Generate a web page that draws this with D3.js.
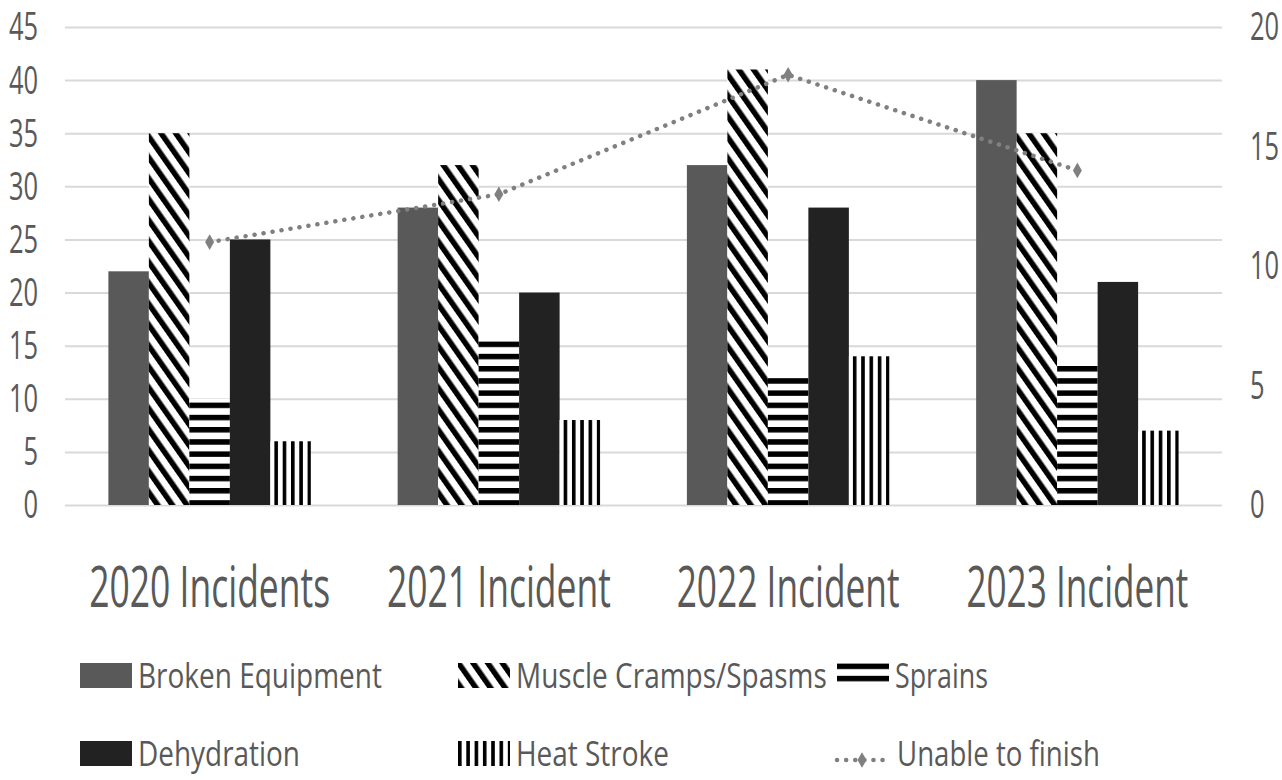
<!DOCTYPE html>
<html>
<head>
<meta charset="utf-8">
<script src="https://cdn.jsdelivr.net/npm/d3@7"></script>
<style>
  body { margin: 0; background: #fff; }
  text { font-family: "Open Sans", sans-serif; fill: #595959; }
</style>
</head>
<body>
<svg id="chart" width="1282" height="780"></svg>
<script>
// Data
const categories = ['2020 Incidents', '2021 Incident', '2022 Incident', '2023 Incident'];
const brokenEquipment = [22, 28, 32, 40];
const muscleCramps = [35, 32, 41, 35];
const sprains = [10, 16, 12.4, 13.6];
const dehydration = [25, 20, 28, 21];
const heatStroke = [6, 8, 14, 7];
const unableToFinish = [11, 13, 18, 14];
const seriesNames = ['Broken Equipment', 'Muscle Cramps/Spasms', 'Sprains', 'Dehydration', 'Heat Stroke'];
const lineName = 'Unable to finish';
const leftTicks = [0, 5, 10, 15, 20, 25, 30, 35, 40, 45];
const rightTicks = [0, 5, 10, 15, 20];

const seriesValues = [brokenEquipment, muscleCramps, sprains, dehydration, heatStroke];
const fills = ['#595959', 'url(#diag)', 'url(#horiz)', '#222222', 'url(#vert)'];

const svg = d3.select('#chart');
svg.append('rect').attr('width', 1282).attr('height', 780).attr('fill', '#fff');

// Patterns
const defs = svg.append('defs');
const diag = defs.append('pattern').attr('id', 'diag')
  .attr('patternUnits', 'userSpaceOnUse').attr('width', 12).attr('height', 12)
  .attr('patternTransform', 'rotate(-35)');
diag.append('rect').attr('width', 12).attr('height', 12).attr('fill', '#fff');
diag.append('rect').attr('width', 5.5).attr('height', 12).attr('fill', '#000');

const horiz = defs.append('pattern').attr('id', 'horiz')
  .attr('patternUnits', 'userSpaceOnUse').attr('width', 12).attr('height', 12.2);
horiz.append('rect').attr('width', 12).attr('height', 12.2).attr('fill', '#fff');
horiz.append('rect').attr('width', 12).attr('height', 5.5).attr('fill', '#000');

const vert = defs.append('pattern').attr('id', 'vert')
  .attr('patternUnits', 'userSpaceOnUse').attr('width', 8.3).attr('height', 10);
vert.append('rect').attr('width', 8.3).attr('height', 10).attr('fill', '#fff');
vert.append('rect').attr('width', 3.6).attr('height', 10).attr('fill', '#000');

// Scales
const x0 = d3.scaleBand().domain(categories).range([65, 1222]).paddingInner(0.3).paddingOuter(0.15);
const x1 = d3.scaleBand().domain(seriesNames).range([0, x0.bandwidth()]);
const yL = d3.scaleLinear().domain([0, 45]).range([505, 27]);
const yR = d3.scaleLinear().domain([0, 20]).range([505, 27]);

// squeeze a text horizontally to a target width (the source font is narrow)
function squeeze(sel, widthOf) {
  sel.each(function (d, i) {
    const t = d3.select(this);
    const w = this.getComputedTextLength();
    const k = widthOf(d, i) / w;
    const x = +t.attr('x') || 0, y = +t.attr('y') || 0;
    t.attr('transform', `translate(${x},${y}) scale(${k},1)`).attr('x', 0).attr('y', 0);
  });
}

// Gridlines
const grid = svg.append('g').attr('transform', 'translate(65,0)')
  .call(d3.axisLeft(yL).tickValues(leftTicks).tickSize(-1157).tickFormat(''));
grid.select('.domain').remove();
grid.selectAll('line').attr('stroke', '#d9d9d9').attr('stroke-width', 2);

// Left axis labels
const leftAxis = svg.append('g').attr('transform', 'translate(38,0)')
  .call(d3.axisLeft(yL).tickValues(leftTicks).tickSize(0).tickPadding(0));
leftAxis.select('.domain').remove();
leftAxis.selectAll('text')
  .attr('x', 0).attr('dy', '0.34em')
  .style('font-size', '38px').style('font-family', '"Open Sans", sans-serif')
  .attr('fill', '#595959')
  .attr('transform', 'scale(0.67,1)');

// Right axis labels
const rightAxis = svg.append('g').attr('transform', 'translate(1250,0)')
  .call(d3.axisRight(yR).tickValues(rightTicks).tickSize(0).tickPadding(0));
rightAxis.select('.domain').remove();
rightAxis.selectAll('text')
  .attr('x', 0).attr('dy', '0.34em')
  .style('font-size', '38px').style('font-family', '"Open Sans", sans-serif')
  .attr('fill', '#595959')
  .attr('transform', 'scale(0.67,1)');

// Bars
const groups = svg.append('g').selectAll('g')
  .data(categories)
  .join('g')
  .attr('transform', d => `translate(${x0(d)},0)`);

groups.selectAll('rect')
  .data((c, i) => seriesNames.map((s, j) => ({ s, j, v: seriesValues[j][i] })))
  .join('rect')
  .attr('x', d => x1(d.s))
  .attr('width', x1.bandwidth())
  .attr('y', d => yL(d.v))
  .attr('height', d => yL(0) - yL(d.v))
  .attr('fill', d => fills[d.j]);

// Line on secondary axis
const cx = c => x0(c) + x0.bandwidth() / 2;
const linePts = categories.map((c, i) => [cx(c), yR(unableToFinish[i])]);
svg.append('path')
  .attr('d', d3.line()(linePts))
  .attr('fill', 'none')
  .attr('stroke', '#808080')
  .attr('stroke-width', 4.5)
  .attr('stroke-linecap', 'round')
  .attr('stroke-dasharray', '0.1 9');
svg.append('g').selectAll('path')
  .data(linePts)
  .join('path')
  .attr('transform', d => `translate(${d[0]},${d[1]})`)
  .attr('d', d3.symbol(d3.symbolDiamond, 70))
  .attr('fill', '#808080');

// Category labels
const catWidths = [241, 224, 223, 222];
svg.append('g').selectAll('text')
  .data(categories)
  .join('text')
  .attr('x', d => cx(d))
  .attr('y', 607)
  .attr('text-anchor', 'middle')
  .attr('font-size', 56)
  .text(d => d)
  .call(squeeze, (d, i) => catWidths[i]);

// Legend
const legendItems = [
  { name: seriesNames[0], fill: fills[0], x: 80, row: 0, w: 244 },
  { name: seriesNames[1], fill: fills[1], x: 458, row: 0, w: 311 },
  { name: seriesNames[2], fill: fills[2], x: 837, row: 0, w: 93 },
  { name: seriesNames[3], fill: fills[3], x: 80, row: 1, w: 162 },
  { name: seriesNames[4], fill: fills[4], x: 458, row: 1, w: 153 },
  { name: lineName, fill: null, x: 835, row: 1, w: 203 }
];
const rowBase = [688, 766];

const leg = svg.append('g').selectAll('g')
  .data(legendItems)
  .join('g')
  .attr('transform', d => `translate(${d.x},${rowBase[d.row]})`);

leg.filter(d => d.fill)
  .append('rect')
  .attr('x', 0).attr('y', -25)
  .attr('width', 52).attr('height', 25)
  .attr('fill', d => d.fill);

const lineLeg = leg.filter(d => !d.fill);
lineLeg.append('line')
  .attr('x1', 2).attr('x2', 50).attr('y1', -6).attr('y2', -6)
  .attr('stroke', '#808080').attr('stroke-width', 4.5)
  .attr('stroke-linecap', 'round').attr('stroke-dasharray', '0.1 9');
lineLeg.append('path')
  .attr('transform', 'translate(27,-6)')
  .attr('d', d3.symbol(d3.symbolDiamond, 70))
  .attr('fill', '#808080');

leg.append('text')
  .attr('x', d => d.fill ? 58 : 62)
  .attr('y', 0)
  .attr('font-size', 35)
  .text(d => d.name)
  .call(squeeze, d => d.w);
</script>
</body>
</html>
